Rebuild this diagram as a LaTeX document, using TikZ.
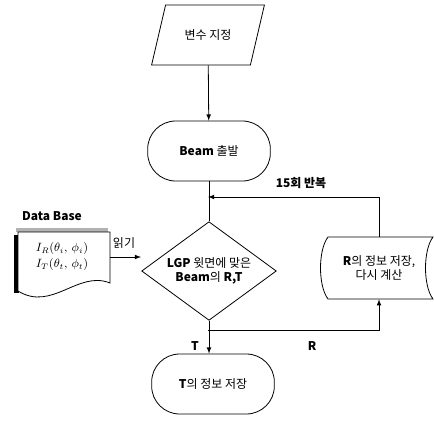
\documentclass[tikz,border=0pt]{standalone}
\usepackage{fontspec}
\usepackage{amsmath}
\setmainfont{Noto Sans CJK KR}
\usetikzlibrary{arrows}
\usetikzlibrary{positioning}
\usetikzlibrary{shapes.geometric}
\tikzset{flow/.style = {line width = 0.6pt, -latex}}
\tikzset{termbox/.style = {draw, rectangle, rounded corners = 21pt, line width = 0.6pt,
    minimum width = 92pt, minimum height = 45pt, font = \small}}
\tikzset{lbl/.style = {font = \small\bfseries}}

\begin{document}
\begin{tikzpicture}[x = 0.75pt, y = -0.75pt]
      \useasboundingbox (0, 0) rectangle (434, 424);

      \node [draw, trapezium, trapezium left angle = 65, trapezium right angle = 115,
             trapezium stretches = true, minimum width = 85pt, minimum height = 45pt,
             line width = 0.6pt, font = \small] (var) at (208, 35) {변수 지정};
      \node [termbox] (beam) at (209, 151) {\textbf{Beam} 출발};
      \node [draw, diamond, minimum width = 101pt, minimum height = 74pt, inner sep = 0,
             line width = 0.6pt] (cond) at (209, 271) {};
      \node [font = \small, align = center] (condtext) at (cond.center)
             {\textbf{LGP} 윗면에 맞은\\\textbf{Beam}의 \textbf{R,T}};
      \node [termbox] (tsave) at (213, 384) {\textbf{T}의 정보 저장};

      % data base (document)
      \fill [black] (14, 235) rectangle (19, 293);
      \fill [gray!60] (16, 228) rectangle (108, 232);
      \draw [line width = 0.6pt, fill = white] (18, 232) -- (110, 232) -- (110, 283)
            .. controls (78, 270) and (52, 312) .. (18, 291) -- cycle;
      \node (db) at (62, 257) {\small$\begin{gathered}I_R(\theta_i,\,\phi_i)\\[-2pt]
            I_T(\theta_t,\,\phi_t)\end{gathered}$};
      \node [lbl] (dbname) at (52, 216) {Data Base};
      \node [font = \small] (readlbl) at (124, 243) {읽기};

      % stored data box
      \draw [line width = 0.6pt] (328, 237) -- (433, 237)
            .. controls (423, 250) and (423, 286) .. (433, 299) -- (328, 299)
            .. controls (318, 286) and (318, 250) .. (328, 237) -- cycle;
      \node [minimum width = 78pt, minimum height = 46.5pt, align = center,
             font = \small] (rbox) at (379, 268) {\textbf{R}의 정보 저장,\\다시 계산};

      \coordinate (loopin) at (208, 197);
      \coordinate (split) at (208, 330);
      \coordinate (dbout) at (110, 257);
      \coordinate (dbin) at (141, 257);

      \draw [flow] (var) -- (beam);
      \draw [line width = 0.6pt] (beam) -- (cond);
      \draw [flow] (rbox.north) |- (loopin);
      \draw [flow] (dbout) -- (dbin);
      \draw [flow] (cond.south) -- (cond.south |- tsave.north);
      \draw [flow] (split) -| (rbox.south);

      \node [lbl] (rep) at (301, 183) {15회 반복};
      \node [lbl] (tlbl) at (195, 346) {T};
      \node [lbl] (rlbl) at (312, 346) {R};
    \end{tikzpicture}
\end{document}
